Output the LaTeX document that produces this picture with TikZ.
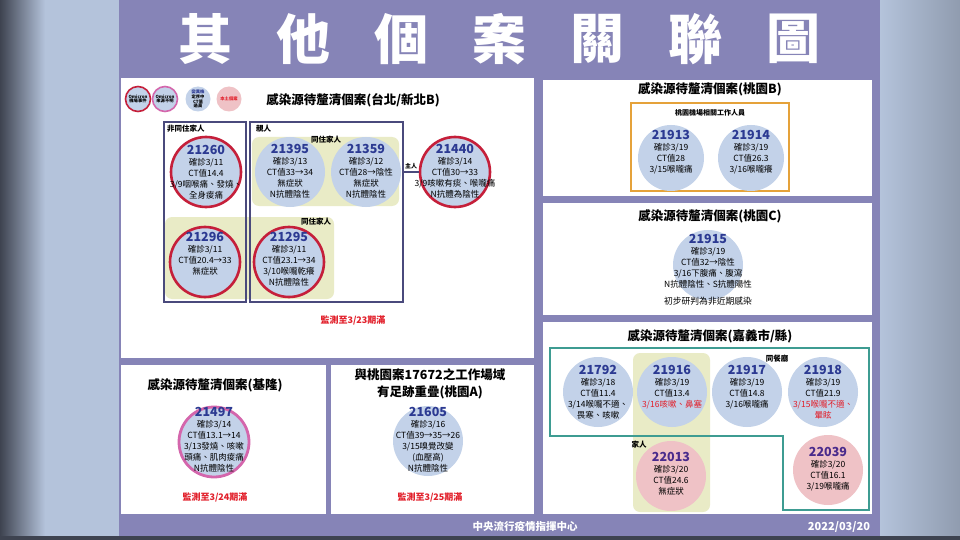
\documentclass[tikz,border=0pt]{standalone}
\usepackage{fontspec}
\setmainfont{Noto Sans CJK TC}
\definecolor{slide}{HTML}{8684B7}
\definecolor{cfill}{HTML}{C3D2E9}
\definecolor{ringred}{HTML}{C51F3A}
\definecolor{ringpink}{HTML}{D466AC}
\definecolor{pinkfill}{HTML}{EFC2C6}
\definecolor{grpyellow}{HTML}{E9EBC6}
\definecolor{idblue}{HTML}{2C3A92}
\definecolor{idpurple}{HTML}{4A2B8C}
\definecolor{boxnavy}{HTML}{4A4A7C}
\definecolor{orangebox}{HTML}{E5A23A}
\definecolor{tealline}{HTML}{3E9C92}
\definecolor{alertred}{HTML}{E2202B}
\definecolor{bgblue}{HTML}{B4C3DB}
\definecolor{bgdark}{HTML}{3E4350}
\tikzset{
 case/.style={circle, fill=cfill, minimum size=70pt, inner sep=0pt},
 redring/.style={case, draw=ringred, line width=2.6pt},
 pinkring/.style={case, draw=ringpink, line width=2.8pt},
 pinkcase/.style={case, fill=pinkfill},
 smallcase/.style={case, minimum size=66pt},
 casetxt/.style={align=center, inner sep=0pt, anchor=north, font=\fontsize{8.5}{10.9}\selectfont},
 ptitle/.style={font=\fontsize{12.5}{17}\selectfont\bfseries, inner sep=0pt, align=center},
 grplabel/.style={font=\fontsize{7.5}{9}\selectfont\bfseries, inner sep=0pt},
 grpbox/.style={draw=boxnavy, line width=1.3pt, inner sep=0pt},
 yellowgrp/.style={fill=grpyellow, rounded corners=7pt, inner sep=0pt},
 alert/.style={font=\fontsize{9}{11}\selectfont\bfseries, text=alertred, inner sep=0pt},
 titlechar/.style={font=\fontsize{54}{54}\selectfont\bfseries, text=white, inner sep=0pt},
 legendc/.style={circle, minimum size=25pt, inner sep=0pt, fill=cfill, align=center, font=\fontsize{4.3}{4.8}\selectfont\bfseries},
 footer/.style={font=\fontsize{10.5}{12}\selectfont\bfseries, text=white, inner sep=0pt},
}
\newcommand\idtxt[1]{{\fontsize{12.5}{13}\selectfont\bfseries\color{idblue}#1}}
\newcommand\idtxtp[1]{{\fontsize{12.5}{13}\selectfont\bfseries\color{idpurple}#1}}
\newcommand\mycase[7]{%
  \node[#4] (#1) at (#2,#3) {};
  \node[casetxt] (#1t) at (#2,#5) {#6\\#7};
}
\begin{document}
\begin{tikzpicture}[x=1pt,y=-1pt]
\useasboundingbox (0,0) rectangle (960,540);
% background outside the slide
\fill[bgblue] (0,0) rectangle (960,540);
\shade[left color=bgdark, right color=bgblue] (0,0) rectangle (45,540);
\shade[left color=bgblue, right color=bgblue!80!black] (880,0) rectangle (960,540);
\fill[bgdark] (0,536) rectangle (960,540);
\fill[slide] (119,0) rectangle (880,536);
% panels
\fill[white] (121,78) rectangle (534,358);
\fill[white] (543,80) rectangle (872,196);
\fill[white] (543,203) rectangle (872,315);
\fill[white] (543,322) rectangle (872,514);
\fill[white] (121,365) rectangle (326,514);
\fill[white] (331,365) rectangle (534,514);
% title
\foreach \c [count=\i from 0] in {其,他,個,案,關,聯,圖}
  \node[titlechar] (tc\i) at (205+98*\i,39) {\c};
% ---------- top-left panel ----------
\node[legendc, draw=ringred, line width=1.6pt] (lg1) at (138,99) {Omicron\\機場事件};
\node[legendc, draw=ringpink, line width=1.6pt] (lg2) at (165,99) {Omicron\\來源不明};
\node[legendc] (lg3) at (198,99) {{\color{idblue}變異株}\\定序中\\CT值\\過高};
\node[legendc, fill=pinkfill] (lg4) at (229,99) {{\color{alertred}本土個案}};
\node[ptitle] (p1title) at (353,100) {感染源待釐清個案(台北/新北B)};
\node[yellowgrp, minimum width=147pt, minimum height=69pt] (ytop) at (325.5,171.5) {};
\node[yellowgrp, minimum width=169pt, minimum height=82pt] (ybot) at (249.5,258) {};
\node[grpbox, minimum width=82pt, minimum height=180pt] (bxfei) at (205,212) {};
\node[grpbox, minimum width=153pt, minimum height=180pt] (bxqin) at (326.5,212) {};
\node[grplabel, anchor=west] (lbfei) at (167,129) {非同住家人};
\node[grplabel, anchor=west] (lbqin) at (256,129) {親人};
\node[grplabel] (lbtop) at (326,140) {同住家人};
\node[grplabel] (lbbot) at (316,222) {同住家人};
\mycase{c21260}{206}{172}{redring}{145.4}{\idtxt{21260}}{確診3/11\\CT值14.4\\3/9咽喉痛、發燒、\\全身痠痛}
\mycase{c21395}{290}{172}{case}{144.4}{\idtxt{21395}}{確診3/13\\CT值33→34\\無症狀\\N抗體陰性}
\mycase{c21359}{366}{172}{case}{144.4}{\idtxt{21359}}{確診3/12\\CT值28→陰性\\無症狀\\N抗體陰性}
\mycase{c21440}{455}{172}{redring}{144.4}{\idtxt{21440}}{確診3/14\\CT值30→33\\3/9咳嗽有痰、喉嚨痛\\N抗體為陰性}
\mycase{c21296}{205}{262}{redring}{232.4}{\idtxt{21296}}{確診3/11\\CT值20.4→33\\無症狀}
\mycase{c21295}{289}{262}{redring}{232.4}{\idtxt{21295}}{確診3/11\\CT值23.1→34\\3/10喉嚨乾癢\\N抗體陰性}
\draw[line width=1.4pt, boxnavy] (bxqin.east |- c21440.west) -- (c21440.west);
\node[inner sep=0pt, font=\fontsize{6}{7}\selectfont\bfseries] (lbzhu) at (411,166) {主人};
\node[alert] (al1) at (353,320) {監測至3/23期滿};
% ---------- Taoyuan B ----------
\node[ptitle] (p2title) at (710,89) {感染源待釐清個案(桃園B)};
\node[draw=orangebox, line width=1.5pt, minimum width=158pt, minimum height=88pt, inner sep=0pt] (bxor) at (710,147) {};
\node[grplabel, font=\fontsize{7}{8}\selectfont\bfseries] (lbair) at (710,113) {桃園機場相關工作人員};
\mycase{c21913}{671}{158}{smallcase}{130.4}{\idtxt{21913}}{確診3/19\\CT值28\\3/15喉嚨痛}
\mycase{c21914}{751}{158}{smallcase}{130.4}{\idtxt{21914}}{確診3/19\\CT值26.3\\3/16喉嚨癢}
% ---------- Taoyuan C ----------
\node[ptitle] (p3title) at (710,216) {感染源待釐清個案(桃園C)};
\mycase{c21915}{708}{265}{case}{234.4}{\idtxt{21915}}{確診3/19\\CT值32→陰性\\3/16下腹痛、腹瀉\\N抗體陰性、S抗體陽性}
\node[font=\fontsize{8.8}{10}\selectfont, inner sep=0pt] (noteC) at (708,301) {初步研判為非近期感染};
% ---------- Chiayi ----------
\node[ptitle] (p4title) at (710,336) {感染源待釐清個案(嘉義市/縣)};
\node[yellowgrp, minimum width=77pt, minimum height=159pt] (ycy) at (671.5,432.5) {};
\draw[tealline, line width=1.8pt] (550,348) -| (869,510) -- (783,510) |- (550,436) -- cycle;
\node[grplabel] (lbrest) at (777,359) {同餐廳};
\node[grplabel] (lbfam) at (639,445) {家人};
\mycase{c21792}{598}{392}{case}{365.4}{\idtxt{21792}}{確診3/18\\CT值11.4\\3/14喉嚨不適、\\畏寒、咳嗽}
\mycase{c21916}{672}{392}{case}{365.4}{\idtxt{21916}}{確診3/19\\CT值13.4\\{\color{alertred}3/16咳嗽、鼻塞}}
\mycase{c21917}{747}{392}{case}{365.4}{\idtxt{21917}}{確診3/19\\CT值14.8\\3/16喉嚨痛}
\mycase{c21918}{823}{392}{case}{365.4}{\idtxt{21918}}{確診3/19\\CT值21.9\\{\color{alertred}3/15喉嚨不適、}\\{\color{alertred}暈眩}}
\mycase{c22013}{671}{476}{pinkcase}{452.4}{\idtxtp{22013}}{確診3/20\\CT值24.6\\無症狀}
\mycase{c22039}{828}{470}{pinkcase}{447.4}{\idtxtp{22039}}{確診3/20\\CT值16.1\\3/19喉嚨痛}
% ---------- Keelung ----------
\node[ptitle] (p5title) at (215,385) {感染源待釐清個案(基隆)};
\mycase{c21497}{214}{442}{pinkring}{407.4}{\idtxt{21497}}{確診3/14\\CT值13.1→14\\3/13發燒、咳嗽\\頭痛、肌肉痠痛\\N抗體陰性}
\node[alert] (al2) at (215,497) {監測至3/24期滿};
% ---------- Taoyuan A ----------
\node[ptitle] (p6title) at (430,383.5) {與桃園案17672之工作場域\\有足跡重疊(桃園A)};
\mycase{c21605}{428}{441}{case}{407.4}{\idtxt{21605}}{確診3/16\\CT值39→35→26\\3/15嗅覺改變\\(血壓高)\\N抗體陰性}
\node[alert] (al3) at (430,497) {監測至3/25期滿};
% footer
\node[footer] (ft1) at (525,527) {中央流行疫情指揮中心};
\node[footer, font=\fontsize{11}{12}\selectfont\bfseries] (ft2) at (839,527) {2022/03/20};
\end{tikzpicture}
\end{document}
